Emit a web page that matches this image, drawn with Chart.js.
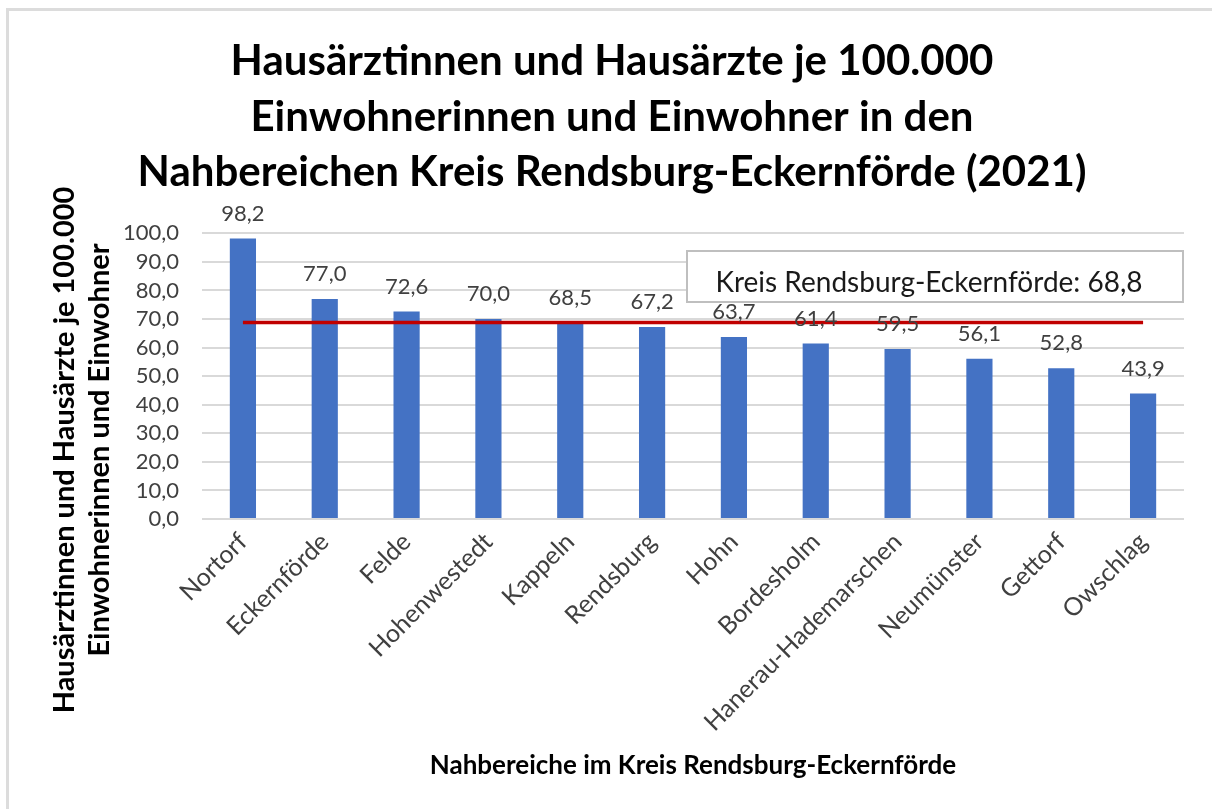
<!DOCTYPE html>
<html>
<head>
<meta charset="utf-8">
<script src="https://cdn.jsdelivr.net/npm/chart.js@4.4.1/dist/chart.umd.min.js"></script>
<style>
  html, body { margin: 0; padding: 0; background: #ffffff; width: 1212px; height: 809px; overflow: hidden; }
  #wrap { position: absolute; left: 0; top: 0; width: 1212px; height: 809px; }
  #frame { position: absolute; left: 6px; top: 8px; right: -10px; bottom: -10px; border-top: 3px solid #dcdcdc; border-left: 3px solid #dcdcdc; pointer-events: none; }
</style>
</head>
<body>
<div id="wrap"><canvas id="c" width="1212" height="809"></canvas></div>
<div id="frame"></div>
<script>
// ---- data ----
const categories = ["Nortorf", "Eckernförde", "Felde", "Hohenwestedt", "Kappeln", "Rendsburg", "Hohn", "Bordesholm", "Hanerau-Hademarschen", "Neumünster", "Gettorf", "Owschlag"];
const values = [98.2, 77.0, 72.6, 70.0, 68.5, 67.2, 63.7, 61.4, 59.5, 56.1, 52.8, 43.9];
const kreisValues = [68.8, 68.8, 68.8, 68.8, 68.8, 68.8, 68.8, 68.8, 68.8, 68.8, 68.8, 68.8];
const kreisLabel = "Kreis Rendsburg-Eckernförde: 68,8";
const titleLines = ["Hausärztinnen und Hausärzte je 100.000", "Einwohnerinnen und Einwohner in den", "Nahbereichen Kreis Rendsburg-Eckernförde (2021)"];
const yTitleLines = ["Hausärztinnen und Hausärzte je 100.000", "Einwohnerinnen und Einwohner"];
const xTitle = "Nahbereiche im Kreis Rendsburg-Eckernförde";
const yMin = 0, yMax = 100, yStep = 10;

const FONT = "Lato, 'Open Sans', sans-serif";
const fmt = v => v.toFixed(1).replace('.', ',');

const dataLabels = {
  id: 'dataLabels',
  afterDatasetsDraw(chart) {
    const ctx = chart.ctx;
    const meta = chart.getDatasetMeta(1);
    ctx.save();
    ctx.font = "22px " + FONT;
    ctx.fillStyle = "#404040";
    ctx.textAlign = "center";
    ctx.textBaseline = "middle";
    meta.data.forEach((el, i) => {
      ctx.fillText(fmt(values[i]), el.x, el.y - 25);
    });
    ctx.restore();
  }
};

const kreisBox = {
  id: 'kreisBox',
  afterDraw(chart) {
    const ctx = chart.ctx;
    const a = chart.chartArea;
    ctx.save();
    const bx = 687, by = 251, bw = a.right - 1 - 687, bh = 51;
    ctx.fillStyle = "#ffffff";
    ctx.fillRect(bx, by, bw, bh);
    ctx.strokeStyle = "#bfbfbf";
    ctx.lineWidth = 2;
    ctx.strokeRect(bx, by, bw, bh);
    ctx.font = "28px " + FONT;
    ctx.fillStyle = "#1a1a1a";
    ctx.textAlign = "center";
    ctx.textBaseline = "middle";
    ctx.fillText(kreisLabel, bx + bw / 2 - 6, by + bh / 2 + 6);
    ctx.restore();
  }
};

const yTitle = {
  id: 'yTitle',
  afterDraw(chart) {
    const ctx = chart.ctx;
    ctx.save();
    ctx.font = "bold 29px " + FONT;
    ctx.fillStyle = "#000000";
    ctx.textAlign = "center";
    ctx.textBaseline = "middle";
    ctx.translate(82, 450);
    ctx.rotate(-Math.PI / 2);
    ctx.fillText(yTitleLines[0], 0, -17);
    ctx.fillText(yTitleLines[1], 0, 18);
    ctx.restore();
  }
};

new Chart(document.getElementById('c'), {
  data: {
    labels: categories,
    datasets: [
      {
        type: 'line',
        label: 'Kreis Rendsburg-Eckernförde',
        data: kreisValues,
        borderColor: '#C00000',
        borderWidth: 3.5,
        pointRadius: 0,
        fill: false,
        order: 0
      },
      {
        type: 'bar',
        label: 'Hausärzte je 100.000',
        data: values,
        backgroundColor: '#4472C4',
        barPercentage: 0.32,
        categoryPercentage: 1.0,
        order: 1
      }
    ]
  },
  options: {
    responsive: false,
    animation: false,
    devicePixelRatio: 1,
    layout: { padding: { left: 40, right: 28, top: 0, bottom: 0 } },
    plugins: {
      legend: { display: false },
      tooltip: { enabled: false },
      title: {
        display: true,
        text: titleLines,
        color: '#000000',
        font: { family: FONT, size: 42, weight: 'bold', lineHeight: 1.32 },
        padding: { top: 34, bottom: 33 }
      }
    },
    scales: {
      x: {
        grid: { display: false, drawTicks: false },
        border: { display: false },
        ticks: {
          color: '#404040',
          font: { family: FONT, size: 25 },
          minRotation: 45,
          maxRotation: 45,
          padding: 8,
          autoSkip: false
        },
        title: {
          display: true,
          text: xTitle,
          color: '#000000',
          font: { family: FONT, size: 26, weight: 'bold' },
          padding: { top: 0, bottom: 28 }
        },
        afterFit(scale) { scale.height = 290; }
      },
      y: {
        min: yMin,
        max: yMax,
        grid: { color: '#d9d9d9', lineWidth: 2, drawTicks: false },
        border: { display: false },
        ticks: {
          stepSize: yStep,
          autoSkip: false,
          color: '#404040',
          font: { family: FONT, size: 22 },
          padding: 23,
          callback: v => fmt(v)
        },
        afterFit(scale) { scale.width = 162; }
      }
    }
  },
  plugins: [dataLabels, kreisBox, yTitle]
});
</script>
</body>
</html>
